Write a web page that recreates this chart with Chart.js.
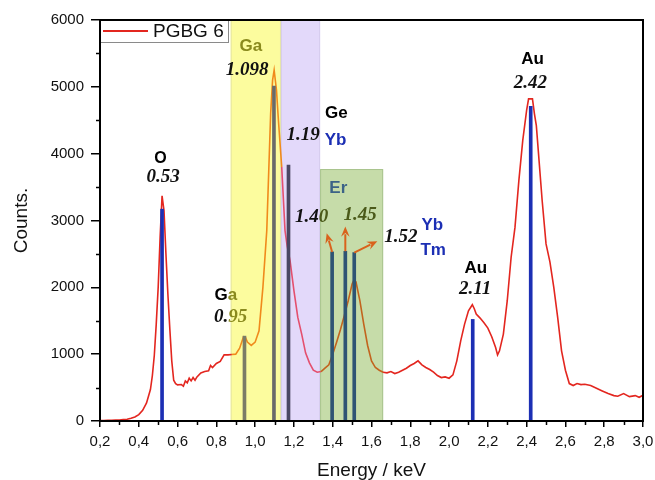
<!DOCTYPE html>
<html>
<head>
<meta charset="utf-8">
<script src="https://cdn.jsdelivr.net/npm/chart.js@4.4.1/dist/chart.umd.min.js"></script>
<style>
  html, body { margin: 0; padding: 0; background: #fff; }
</style>
</head>
<body>
<canvas id="myChart" width="655" height="480"></canvas>
<script>
// EDS spectrum, sample PGBG 6
const energy = [0.20, 0.22, 0.24, 0.26, 0.28, 0.30, 0.32, 0.34, 0.36, 0.38,
    0.40, 0.42, 0.44, 0.46, 0.47, 0.48, 0.49, 0.50, 0.51, 0.52,
    0.53, 0.54, 0.55, 0.56, 0.57, 0.58, 0.59, 0.60, 0.62, 0.63,
    0.64, 0.65, 0.66, 0.67, 0.68, 0.69, 0.70, 0.72, 0.74, 0.76,
    0.77, 0.78, 0.80, 0.82, 0.84, 0.86, 0.88, 0.90, 0.92, 0.94,
    0.95, 0.96, 0.98, 1.00, 1.02, 1.04, 1.06, 1.08, 1.09, 1.098,
    1.11, 1.12, 1.137, 1.154, 1.165, 1.18, 1.20, 1.22, 1.24, 1.26,
    1.28, 1.30, 1.32, 1.34, 1.36, 1.38, 1.40, 1.42, 1.44, 1.46,
    1.48, 1.50, 1.51, 1.52, 1.54, 1.56, 1.58, 1.60, 1.62, 1.64,
    1.66, 1.68, 1.70, 1.72, 1.74, 1.76, 1.78, 1.80, 1.82, 1.84,
    1.86, 1.88, 1.90, 1.92, 1.94, 1.96, 1.98, 2.00, 2.02, 2.04,
    2.06, 2.08, 2.10, 2.12, 2.13, 2.14, 2.16, 2.18, 2.20, 2.22,
    2.24, 2.25, 2.26, 2.28, 2.30, 2.32, 2.34, 2.36, 2.38, 2.40,
    2.41, 2.43, 2.44, 2.45, 2.48, 2.50, 2.52, 2.54, 2.56, 2.58,
    2.60, 2.62, 2.64, 2.66, 2.68, 2.70, 2.73, 2.76, 2.79, 2.82,
    2.85, 2.87, 2.90, 2.93, 2.96, 2.98, 3.00];
const counts = [5, 8, 10, 12, 15, 14, 20, 25, 40, 60,
    95, 160, 270, 470, 680, 980, 1450, 2000, 2750, 3370,
    3150, 2500, 1900, 1380, 900, 610, 560, 540, 545, 520,
    600, 570, 640, 600, 650, 610, 660, 720, 740, 750,
    830, 800, 860, 890, 990, 990, 995, 1000, 1090, 1260,
    1250, 1180, 1130, 1180, 1350, 2000, 2850, 4600, 5100, 5250,
    4950, 4500, 3800, 2850, 2620, 2400, 1950, 1550, 1300, 1020,
    870, 760, 730, 740, 790, 840, 1000, 1180, 1370, 1580,
    1800, 2050, 2110, 2080, 1800, 1450, 1130, 900, 800, 760,
    730, 720, 740, 710, 730, 760, 790, 830, 860, 900,
    840, 800, 770, 730, 680, 650, 660, 640, 690, 900,
    1200, 1450, 1650, 1740, 1680, 1600, 1540, 1470, 1390, 1260,
    1100, 990, 1050, 1300, 1800, 2450, 2900, 3600, 4200, 4650,
    4820, 4820, 4600, 4420, 3300, 2650, 2380, 2000, 1550, 1050,
    760, 560, 530, 560, 545, 550, 530, 490, 450, 410,
    380, 370, 410, 365, 380, 355, 385];

// reference lines of the elements
const peakEnergy = [0.52, 0.945, 1.097, 1.172, 1.397, 1.465, 1.511, 2.122, 2.421];
const peakHeight = [3170, 1270, 5010, 3830, 2530, 2540, 2520, 1520, 4710];
const peakColors = ['#1c2fb4', '#7c7c66', '#6a6a6a', '#4b4763', '#2e5474', '#2e5474', '#2e5474', '#1c2fb4', '#1c2fb4'];

// shaded energy windows
const bandFrom = [0.874, 1.133, 1.335];
const bandTo = [1.133, 1.335, 1.66];
const bandTop = [6000, 6000, 3770];
const bandColors = ['#fcfc9e', '#e3d9fa', '#c6dca9'];
const bandEdges = ['#e6e6a0', '#d6cced', '#a9c48e'];
const lineInBand = ['#f08a1c', '#e4506e', '#c2641e'];

// Er arrows
const arrowFrom = [[1.397, 2530], [1.465, 2540], [1.511, 2520]];
const arrowTo = [[1.369, 2810], [1.465, 2910], [1.63, 2690]];

const xTicks = { min: 0.2, max: 3.0, step: 0.2 };
const yTicks = { min: 0, max: 6000, step: 1000 };

const SANS = 'Arial, "Liberation Sans", sans-serif';
const SERIF = '"Times New Roman", "Liberation Serif", serif';
const OLIVE = '#8a8a1e';
const BLUE = '#1c2fb4';

// annotations: text parts, position in data units
const notes = [
    { x: 0.512, y: 3930, size: 16, parts: [['O', '#000']] },
    { x: 0.525, y: 3650, serif: true, parts: [['0.53', '#111']] },
    { x: 0.978, y: 5600, parts: [['Ga', OLIVE]] },
    { x: 0.959, y: 5248, serif: true, parts: [['1.098', '#111']] },
    { x: 1.419, y: 4604, parts: [['Ge', '#000']] },
    { x: 1.415, y: 4205, parts: [['Yb', BLUE]] },
    { x: 1.248, y: 4280, serif: true, parts: [['1.19', '#111']] },
    { x: 1.429, y: 3482, parts: [['Er', '#3c6387']] },
    { x: 1.291, y: 3045, serif: true, parts: [['1.4', '#111'], ['0', '#4b5a1a']] },
    { x: 1.541, y: 3078, serif: true, parts: [['1.45', '#4b5a1a']] },
    { x: 1.751, y: 2758, serif: true, parts: [['1.52', '#111']] },
    { x: 1.914, y: 2933, parts: [['Yb', BLUE]] },
    { x: 1.918, y: 2559, parts: [['Tm', BLUE]] },
    { x: 0.849, y: 1885, parts: [['G', '#000'], ['a', OLIVE]] },
    { x: 0.874, y: 1556, serif: true, parts: [['0.', '#111'], ['95', OLIVE]] },
    { x: 2.138, y: 2292, parts: [['Au', '#000']] },
    { x: 2.134, y: 1968, serif: true, parts: [['2.11', '#111']] },
    { x: 2.430, y: 5409, parts: [['Au', '#000']] },
    { x: 2.419, y: 5058, serif: true, parts: [['2.42', '#111']] }
];

const spectrum = energy.map((e, i) => ({ x: e, y: counts[i] }));
const sticks = peakEnergy.map((e, i) => ({ x: e, y: peakHeight[i] }));

function bandColorAt(x) {
    for (let i = 0; i < bandFrom.length; i++) {
        if (x >= bandFrom[i] && x < bandTo[i]) return lineInBand[i];
    }
    return undefined;
}

const bandsPlugin = {
    id: 'bands',
    beforeDatasetsDraw(chart) {
        const { ctx, chartArea, scales: { x, y } } = chart;
        ctx.save();
        for (let i = 0; i < bandFrom.length; i++) {
            const x0 = x.getPixelForValue(bandFrom[i]);
            const x1 = x.getPixelForValue(bandTo[i]);
            const y0 = Math.max(y.getPixelForValue(bandTop[i]), chartArea.top);
            const y1 = y.getPixelForValue(0);
            ctx.fillStyle = bandColors[i];
            ctx.fillRect(x0, y0, x1 - x0, y1 - y0);
            ctx.strokeStyle = bandEdges[i];
            ctx.lineWidth = 1;
            ctx.strokeRect(x0 + 0.5, y0 + 0.5, x1 - x0 - 1, y1 - y0 - 1);
        }
        ctx.restore();
    }
};

function drawArrow(ctx, x0, y0, x1, y1) {
    const ang = Math.atan2(y1 - y0, x1 - x0);
    const head = 11;
    ctx.beginPath();
    ctx.moveTo(x0, y0);
    ctx.lineTo(x1 - Math.cos(ang) * head * 0.7, y1 - Math.sin(ang) * head * 0.7);
    ctx.stroke();
    ctx.beginPath();
    ctx.moveTo(x1, y1);
    ctx.lineTo(x1 - head * Math.cos(ang - 0.4), y1 - head * Math.sin(ang - 0.4));
    ctx.lineTo(x1 - head * 0.6 * Math.cos(ang), y1 - head * 0.6 * Math.sin(ang));
    ctx.lineTo(x1 - head * Math.cos(ang + 0.4), y1 - head * Math.sin(ang + 0.4));
    ctx.closePath();
    ctx.fill();
}

const notesPlugin = {
    id: 'notes',
    afterDatasetsDraw(chart) {
        const { ctx, chartArea, scales: { x, y } } = chart;
        ctx.save();

        // arrows
        ctx.strokeStyle = '#d9621c';
        ctx.fillStyle = '#d9621c';
        ctx.lineWidth = 2;
        for (let i = 0; i < arrowFrom.length; i++) {
            drawArrow(ctx,
                x.getPixelForValue(arrowFrom[i][0]), y.getPixelForValue(arrowFrom[i][1]),
                x.getPixelForValue(arrowTo[i][0]), y.getPixelForValue(arrowTo[i][1]));
        }

        // labels
        ctx.textBaseline = 'middle';
        ctx.textAlign = 'left';
        notes.forEach(n => {
            const size = n.size || (n.serif ? 19 : 17);
            ctx.font = n.serif ? `italic bold ${size}px ${SERIF}` : `bold ${size}px ${SANS}`;
            const total = n.parts.reduce((w, p) => w + ctx.measureText(p[0]).width, 0);
            let px = x.getPixelForValue(n.x) - total / 2;
            const py = y.getPixelForValue(n.y);
            n.parts.forEach(p => {
                ctx.fillStyle = p[1];
                ctx.fillText(p[0], px, py);
                px += ctx.measureText(p[0]).width;
            });
        });

        // legend
        const lx = chartArea.left, ly = chartArea.top;
        ctx.fillStyle = '#fff';
        ctx.fillRect(lx, ly, 129, 23);
        ctx.strokeStyle = '#8a8a8a';
        ctx.lineWidth = 1;
        ctx.strokeRect(lx + 0.5, ly + 0.5, 128, 22);
        ctx.strokeStyle = '#e3261f';
        ctx.lineWidth = 2;
        ctx.beginPath();
        ctx.moveTo(lx + 3, ly + 11);
        ctx.lineTo(lx + 48, ly + 11);
        ctx.stroke();
        ctx.fillStyle = '#111';
        ctx.font = `19px ${SANS}`;
        ctx.fillText('PGBG 6', lx + 53, ly + 12);
        ctx.restore();
    },
    afterDraw(chart) {
        const { ctx, chartArea, scales: { x, y } } = chart;
        ctx.save();
        ctx.strokeStyle = '#000';
        ctx.lineWidth = 1.5;
        // minor ticks
        ctx.beginPath();
        for (let v = xTicks.min + xTicks.step / 2; v < xTicks.max; v += xTicks.step) {
            const px = Math.round(x.getPixelForValue(v)) + 0.5;
            ctx.moveTo(px, chartArea.bottom);
            ctx.lineTo(px, chartArea.bottom + 4);
        }
        for (let v = yTicks.min + yTicks.step / 2; v < yTicks.max; v += yTicks.step) {
            const py = Math.round(y.getPixelForValue(v)) + 0.5;
            ctx.moveTo(chartArea.left, py);
            ctx.lineTo(chartArea.left - 4, py);
        }
        ctx.stroke();
        // frame
        ctx.lineWidth = 2;
        ctx.strokeRect(chartArea.left, chartArea.top, chartArea.right - chartArea.left, chartArea.bottom - chartArea.top);
        ctx.restore();
    }
};

const ctx = document.getElementById('myChart').getContext('2d');
new Chart(ctx, {
    type: 'line',
    data: {
        datasets: [{
            type: 'bar',
            label: 'lines',
            data: sticks,
            backgroundColor: peakColors,
            barThickness: 3,
            order: 0
        }, {
            type: 'line',
            label: 'PGBG 6',
            data: spectrum,
            borderColor: '#e3261f',
            borderWidth: 1.6,
            pointRadius: 0,
            tension: 0,
            segment: {
                borderColor: c => bandColorAt((c.p0.parsed.x + c.p1.parsed.x) / 2)
            },
            order: 1
        }]
    },
    options: {
        responsive: false,
        animation: false,
        devicePixelRatio: 1,
        layout: { padding: { top: 20, right: 12, left: 0, bottom: 0 } },
        scales: {
            x: {
                type: 'linear',
                min: xTicks.min,
                max: xTicks.max,
                offset: false,
                grid: { display: true, drawOnChartArea: false, drawTicks: true, tickLength: 6, color: '#000', lineWidth: 1.5, offset: false },
                border: { display: true, color: '#000', width: 2 },
                ticks: {
                    stepSize: xTicks.step,
                    autoSkip: false,
                    maxRotation: 0,
                    padding: 6,
                    color: '#111',
                    font: { family: SANS, size: 15 },
                    callback: v => v.toFixed(1).replace('.', ',')
                },
                title: { display: true, text: 'Energy / keV', color: '#111', font: { family: SANS, size: 19 }, padding: { top: 0, bottom: -2 } },
                afterFit: s => { s.height = 59; s.paddingLeft = 0; s.paddingRight = 0; }
            },
            y: {
                min: yTicks.min,
                max: yTicks.max,
                grid: { display: true, drawOnChartArea: false, drawTicks: true, tickLength: 9, color: '#000', lineWidth: 1.5 },
                border: { display: true, color: '#000', width: 2 },
                ticks: {
                    stepSize: yTicks.step,
                    padding: 7,
                    color: '#111',
                    font: { family: SANS, size: 15 },
                    callback: v => String(v)
                },
                title: { display: true, text: 'Counts.', color: '#111', font: { family: SANS, size: 19 }, padding: { top: 10, bottom: 0 } },
                afterFit: s => { s.width = 100; s.paddingTop = 0; s.paddingBottom = 0; }
            }
        },
        plugins: {
            legend: { display: false },
            tooltip: { enabled: false }
        }
    },
    plugins: [bandsPlugin, notesPlugin]
});
</script>
</body>
</html>
